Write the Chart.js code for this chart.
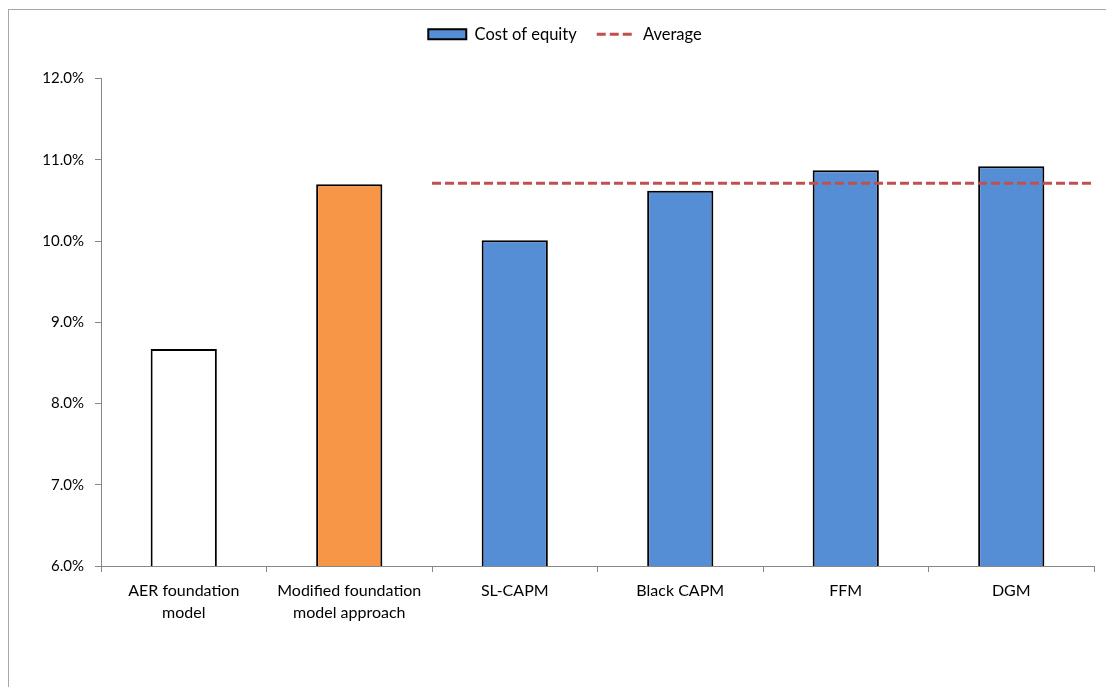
<!DOCTYPE html>
<html>
<head>
<meta charset="utf-8">
<script src="https://cdn.jsdelivr.net/npm/chart.js@4"></script>
<style>
  html, body { margin: 0; padding: 0; background: #fff; overflow: hidden; }
  #wrap { width: 1106px; height: 687px; position: relative; }
</style>
</head>
<body>
<div id="wrap"><canvas id="chart" width="1106" height="687"></canvas></div>
<script>
// Cost of equity estimates by method (per cent)
const categories = [
  ['AER foundation', 'model'],
  ['Modified foundation', 'model approach'],
  'SL-CAPM',
  'Black CAPM',
  'FFM',
  'DGM'
];
const costOfEquity = [8.67, 10.70, 10.01, 10.62, 10.87, 10.92];
const barColors = ['#ffffff', '#f79646', '#558ed5', '#558ed5', '#558ed5', '#558ed5'];
// Average of the alternative models, drawn from the SL-CAPM slot to the right edge
const averageValue = [10.71];
const averageSpan = [1.5, 5.5];
const yTicks = [6, 7, 8, 9, 10, 11, 12];

const FONT = 'Lato, "Open Sans", sans-serif';
const AXIS_GREY = '#868686';
const AVG_DASH = [9, 4];

// Thin grey outline framing the chart object
const framePlugin = {
  id: 'frame',
  beforeDraw(chart) {
    const ctx = chart.ctx;
    ctx.save();
    ctx.fillStyle = '#ffffff';
    ctx.fillRect(0, 0, chart.width, chart.height);
    ctx.strokeStyle = '#a6a6a6';
    ctx.lineWidth = 1;
    ctx.strokeRect(8.5, 9.5, chart.width + 20, chart.height + 20);
    ctx.restore();
  }
};

// Extra room under the legend, and legend nudged to sit over the plot area
const legendSpacing = {
  id: 'legendSpacing',
  beforeInit(chart) {
    const origFit = chart.legend.fit;
    chart.legend.fit = function () {
      origFit.call(this);
      this.height += 26;
    };
  },
  afterLayout(chart) {
    chart.legend.left += 18;
    chart.legend.right += 18;
  }
};

new Chart(document.getElementById('chart'), {
  type: 'bar',
  data: {
    labels: categories,
    datasets: [
      {
        type: 'bar',
        label: 'Cost of equity',
        data: costOfEquity,
        backgroundColor: barColors,
        borderColor: '#000000',
        borderWidth: 2,
        borderSkipped: 'bottom',
        grouped: false,
        categoryPercentage: 1.0,
        barPercentage: 0.4,
        xAxisID: 'x',
        yAxisID: 'y',
        order: 2
      },
      {
        type: 'line',
        label: 'Average',
        data: averageSpan.map(x => ({ x: x, y: averageValue[0] })),
        borderColor: '#c0504d',
        borderWidth: 3,
        borderDash: AVG_DASH,
        pointRadius: 0,
        fill: false,
        xAxisID: 'xAvg',
        yAxisID: 'y',
        order: 1
      }
    ]
  },
  options: {
    responsive: false,
    animation: false,
    layout: { padding: { top: 6, right: 12, left: 0, bottom: 0 } },
    scales: {
      x: {
        type: 'category',
        offset: true,
        grid: {
          display: true,
          drawOnChartArea: false,
          offset: true,
          tickLength: 6,
          color: AXIS_GREY
        },
        border: { display: true, color: AXIS_GREY, width: 1 },
        ticks: {
          color: '#000000',
          padding: 8,
          maxRotation: 0,
          autoSkip: false,
          font: { family: FONT, size: 16, lineHeight: 1.38 }
        },
        afterFit(scale) { scale.height = 121; }
      },
      xAvg: {
        type: 'linear',
        display: false,
        offset: false,
        grid: { offset: false },
        min: -0.5,
        max: 5.5
      },
      y: {
        min: 6,
        max: 12,
        afterBuildTicks(scale) {
          scale.ticks = yTicks.map(v => ({ value: v }));
        },
        grid: {
          display: true,
          drawOnChartArea: false,
          tickLength: 6,
          color: AXIS_GREY
        },
        border: { display: true, color: AXIS_GREY, width: 1 },
        ticks: {
          color: '#000000',
          padding: 11,
          font: { family: FONT, size: 15 },
          callback: v => v.toFixed(1) + '%'
        },
        afterFit(scale) { scale.width = 101; }
      }
    },
    plugins: {
      tooltip: { enabled: false },
      legend: {
        position: 'top',
        align: 'center',
        labels: {
          color: '#000000',
          font: { family: FONT, size: 16.5 },
          usePointStyle: true,
          pointStyleWidth: 38,
          boxHeight: 10,
          padding: 20,
          generateLabels() {
            return [
              {
                text: 'Cost of equity',
                fillStyle: '#558ed5',
                strokeStyle: '#000000',
                lineWidth: 2,
                pointStyle: 'rect',
                datasetIndex: 0,
                fontColor: '#000000'
              },
              {
                text: 'Average',
                fillStyle: 'rgba(0,0,0,0)',
                strokeStyle: '#c0504d',
                lineWidth: 3,
                lineDash: AVG_DASH,
                pointStyle: 'line',
                datasetIndex: 1,
                fontColor: '#000000'
              }
            ];
          }
        }
      }
    }
  },
  plugins: [framePlugin, legendSpacing]
});
</script>
</body>
</html>
